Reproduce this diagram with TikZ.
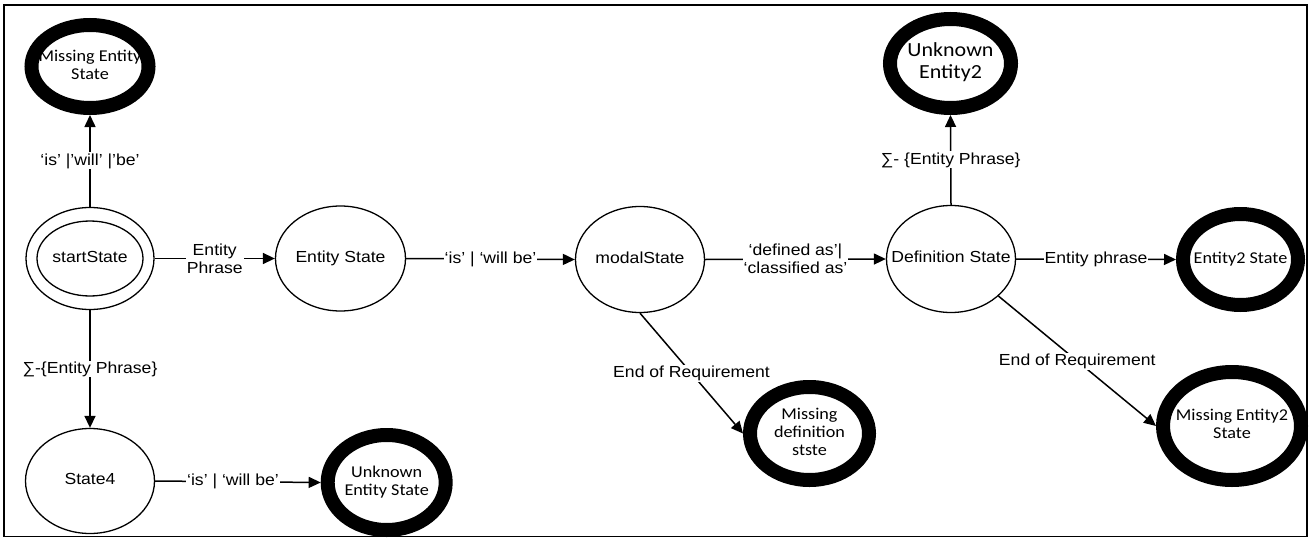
\documentclass[tikz,border=0pt]{standalone}
\usepackage{fontspec}
\setmainfont{Liberation Sans}[FakeStretch=1.1]
\newfontfamily\calfont{Carlito}[FakeStretch=1.1]
\usetikzlibrary{arrows.meta,shapes.geometric}
\newcommand{\zt}[1]{\makebox[0pt][c]{\begin{tabular}{@{}c@{}}#1\end{tabular}}}
\begin{document}
\begin{tikzpicture}[x=1pt,y=-1pt,
  st/.style={ellipse, draw, line width=1.3pt, inner sep=0pt, font=\fontsize{16}{18}\selectfont},
  fin/.style={ellipse, draw, line width=14pt, inner sep=0pt, font=\calfont\fontsize{16.5}{18}\selectfont},
  tr/.style={-{Triangle[length=12pt,width=11pt]}, line width=1.5pt},
  lab/.style={fill=white, inner sep=1pt, font=\fontsize{16}{18}\selectfont, align=center}
]
\useasboundingbox (0,0) rectangle (1310,538);
\draw[line width=1.8pt] (4,5) rectangle (1307,536.5);

% states
\node[st, minimum width=128pt, minimum height=102pt] (start) at (90,258.5) {\zt{startState}};
\node[st, minimum width=106pt, minimum height=75pt] (startin) at (start) {};
\node[st, minimum width=130pt, minimum height=105pt] (es) at (340.5,258.5) {\zt{Entity State}};
\node[st, minimum width=129pt, minimum height=106pt] (ms) at (640,259.5) {\zt{modalState}};
\node[st, minimum width=129pt, minimum height=107pt] (ds) at (951,259) {\zt{Definition State}};
\node[st, minimum width=129pt, minimum height=105pt] (s4) at (90,481) {\zt{State4}};

% final states
\node[fin, minimum width=117pt, minimum height=83pt] (mes) at (90,66.5) {\zt{Missing Entity\\State}};
\node[fin, minimum width=121pt, minimum height=89pt, font=\calfont\fontsize{20}{22}\selectfont] (ue2) at (950.5,63.5) {\zt{Unknown\\Entity2}};
\node[fin, minimum width=115pt, minimum height=91pt] (e2) at (1240.5,259.5) {\zt{Entity2 State}};
\node[fin, minimum width=119pt, minimum height=93pt] (mds) at (809.5,433.5) {\zt{Missing\\definition\\stste}};
\node[fin, minimum width=138pt, minimum height=108pt] (me2) at (1232,426) {\zt{Missing Entity2\\State}};
\node[fin, minimum width=118pt, minimum height=95pt] (ues) at (386.7,482.5) {\zt{Unknown\\Entity State}};

% transitions
\draw[tr] (start.north) -- node[lab]{‘is’ |’will’ |’be’} (mes.south);
\draw[tr] (start.east) -- node[lab]{Entity\\Phrase} (es.west);
\draw[tr] (start.south) -- node[lab]{∑-\{Entity Phrase\}} (s4.north);
\draw[tr] (s4.east) -- node[lab, pos=0.47]{‘is’ | ‘will be’} (ues.west);
\draw[tr] (es.east) -- node[lab]{‘is’ | ‘will be’} (ms.west);
\draw[tr] (ms.east) -- node[lab]{‘defined as’|\\‘classified as’} (ds.west);
\draw[tr] (ds.north) -- node[lab]{∑- \{Entity Phrase\}} (ue2.south);
\draw[tr] (ds.east) -- node[lab]{Entity phrase} (e2.west);
\draw[tr] (ms.south) -- node[lab]{End of Requirement} (mds.west);
\draw[tr] (ds.-38) -- node[lab]{End of Requirement} (me2.west);
\end{tikzpicture}
\end{document}
